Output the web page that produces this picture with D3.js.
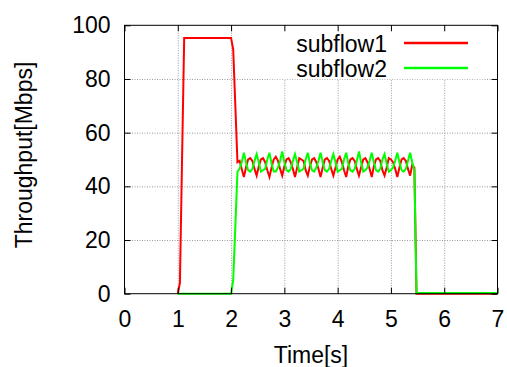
<!DOCTYPE html>
<html>
<head>
<meta charset="utf-8">
<script src="https://cdn.jsdelivr.net/npm/d3@7"></script>
<style>
  body { margin: 0; background: #fff; }
  svg { display: block; }
  text { font-family: "Liberation Sans", Arial, Helvetica, sans-serif; fill: #000; }
  .grid line { stroke: #999; stroke-dasharray: 1,1.5; }
  .grid path { display: none; }
  .axis path { display: none; }
  .axis line { stroke: #000; }
</style>
</head>
<body>
<svg id="chart"></svg>
<script>
// Time stamps (s)
var time = [
  1.00, 1.04, 1.08, 1.12, 1.16, 1.20, 1.24, 1.28, 1.32, 1.36,
  1.40, 1.44, 1.48, 1.52, 1.56, 1.60, 1.64, 1.68, 1.72, 1.76,
  1.80, 1.84, 1.88, 1.92, 1.96, 2.00, 2.04, 2.08, 2.12, 2.16,
  2.20, 2.24, 2.28, 2.32, 2.36, 2.40, 2.44, 2.48, 2.52, 2.56,
  2.60, 2.64, 2.68, 2.72, 2.76, 2.80, 2.84, 2.88, 2.92, 2.96,
  3.00, 3.04, 3.08, 3.12, 3.16, 3.20, 3.24, 3.28, 3.32, 3.36,
  3.40, 3.44, 3.48, 3.52, 3.56, 3.60, 3.64, 3.68, 3.72, 3.76,
  3.80, 3.84, 3.88, 3.92, 3.96, 4.00, 4.04, 4.08, 4.12, 4.16,
  4.20, 4.24, 4.28, 4.32, 4.36, 4.40, 4.44, 4.48, 4.52, 4.56,
  4.60, 4.64, 4.68, 4.72, 4.76, 4.80, 4.84, 4.88, 4.92, 4.96,
  5.00, 5.04, 5.08, 5.12, 5.16, 5.20, 5.24, 5.28, 5.32, 5.36,
  5.40, 5.44, 5.48, 7.00
];

// Throughput of subflow1 (Mbps)
var subflow1 = [
  0, 4, 50, 95.3, 95.3, 95.3, 95.3, 95.3, 95.3, 95.3,
  95.3, 95.3, 95.3, 95.3, 95.3, 95.3, 95.3, 95.3, 95.3, 95.3,
  95.3, 95.3, 95.3, 95.3, 95.3, 95.3, 91, 70, 49, 49.5,
  46.5, 43.5, 47, 50, 50.5, 49.5, 46.5, 44, 47.5, 50,
  50.5, 49, 46, 43.5, 47, 50, 51, 49.5, 46.5, 44,
  47.5, 50, 50.5, 49, 46.5, 43.5, 47, 50.5, 50, 49.5,
  46, 44, 47.5, 50, 50.5, 49, 46.5, 43.5, 47, 50,
  50.5, 49.5, 46.5, 44, 47, 50, 51, 49, 46, 43.5,
  47.5, 50, 50.5, 49.5, 46.5, 44, 47, 50, 50.5, 49,
  46.5, 43.5, 47.5, 50, 50.5, 49.5, 46, 44, 47, 50.5,
  50, 49, 46.5, 43.5, 47, 50, 50.5, 49.5, 46.5, 44,
  48, 47, 0, 0
];

// Throughput of subflow2 (Mbps)
var subflow2 = [
  0, 0, 0, 0, 0, 0, 0, 0, 0, 0,
  0, 0, 0, 0, 0, 0, 0, 0, 0, 0,
  0, 0, 0, 0, 0, 0, 5, 25, 45.5, 46.5,
  49, 52.5, 49, 46, 45.5, 46.5, 49.5, 52, 49, 45.5,
  46, 46.5, 50, 52.5, 48.5, 45.5, 45.5, 47, 49.5, 53,
  49, 46, 45.5, 46.5, 49.5, 52, 49, 45.5, 46, 46.5,
  50, 52.5, 48.5, 46, 45.5, 47, 49.5, 52.5, 49, 46,
  45.5, 46.5, 49.5, 52, 49, 45.5, 46, 46.5, 50, 52.5,
  48.5, 46, 45.5, 46.5, 49.5, 53, 49, 45.5, 46, 47,
  49.5, 52.5, 49, 46, 45.5, 46.5, 50, 52, 48.5, 45.5,
  46, 47, 49.5, 52.5, 49, 46, 45.5, 46.5, 49.5, 52.5,
  49, 46, 0.3, 0.3
];

var xTicks = [0, 1, 2, 3, 4, 5, 6, 7];
var yTicks = [0, 20, 40, 60, 80, 100];
var seriesNames = ['subflow1', 'subflow2'];
var seriesColors = ['#ff0000', '#00ff00'];

var width = 507;
var height = 367;
var margin = {top: 25.3, right: 9.5, bottom: 73.3, left: 124.5};
var fontSize = 23;

var svg = d3.select('#chart')
    .attr('width', width)
    .attr('height', height);

var xScale = d3.scaleLinear()
    .domain([0, 7])
    .range([margin.left, width - margin.right]);

var yScale = d3.scaleLinear()
    .domain([0, 100])
    .range([height - margin.bottom, margin.top]);

var plotW = width - margin.left - margin.right;
var plotH = height - margin.top - margin.bottom;

// Dotted grid
svg.append('g')
    .attr('class', 'grid')
    .attr('transform', `translate(0, ${height - margin.bottom})`)
    .call(d3.axisBottom(xScale).tickValues(xTicks.slice(1, -1)).tickSize(-plotH).tickFormat(''));

svg.append('g')
    .attr('class', 'grid')
    .attr('transform', `translate(${margin.left}, 0)`)
    .call(d3.axisLeft(yScale).tickValues(yTicks.slice(1, -1)).tickSize(-plotW).tickFormat(''));

// Key box hides the grid behind it
svg.append('rect')
    .attr('x', 268)
    .attr('y', margin.top + 1)
    .attr('width', 215)
    .attr('height', 53)
    .attr('fill', '#fff');

// Lines
var data = time.map((t, i) => ({t: t, s1: subflow1[i], s2: subflow2[i]}));

['s1', 's2'].forEach(function(key, k) {
    var line = d3.line()
        .x(d => xScale(d.t))
        .y(d => yScale(d[key]));
    svg.append('path')
        .datum(data)
        .attr('fill', 'none')
        .attr('stroke', seriesColors[k])
        .attr('stroke-width', 2)
        .attr('stroke-linejoin', 'miter')
        .attr('d', line);
});

// Axes with inward ticks
svg.append('g')
    .attr('class', 'axis')
    .attr('transform', `translate(0, ${height - margin.bottom})`)
    .call(d3.axisBottom(xScale).tickValues(xTicks).tickFormat(d3.format('d'))
        .tickSizeInner(-6).tickSizeOuter(0).tickPadding(17));

svg.append('g')
    .attr('class', 'axis')
    .attr('transform', `translate(${margin.left}, 0)`)
    .call(d3.axisLeft(yScale).tickValues(yTicks).tickFormat(d3.format('d'))
        .tickSizeInner(-6).tickSizeOuter(0).tickPadding(14));

// Mirror ticks on top and right
svg.append('g')
    .attr('class', 'axis')
    .attr('transform', `translate(0, ${margin.top})`)
    .call(d3.axisTop(xScale).tickValues(xTicks).tickSizeInner(-6).tickSizeOuter(0).tickFormat(''));

svg.append('g')
    .attr('class', 'axis')
    .attr('transform', `translate(${width - margin.right}, 0)`)
    .call(d3.axisRight(yScale).tickValues(yTicks).tickSizeInner(-6).tickSizeOuter(0).tickFormat(''));

svg.selectAll('.axis text')
    .style('font-size', fontSize + 'px');

// Border
svg.append('rect')
    .attr('x', margin.left)
    .attr('y', margin.top)
    .attr('width', plotW)
    .attr('height', plotH)
    .attr('fill', 'none')
    .attr('stroke', '#000')
    .attr('stroke-width', 1);

// Axis labels
svg.append('text')
    .attr('x', (margin.left + width - margin.right) / 2)
    .attr('y', 363)
    .attr('text-anchor', 'middle')
    .style('font-size', fontSize + 'px')
    .text('Time[s]');

svg.append('text')
    .attr('transform', 'translate(32, 155) rotate(-90)')
    .attr('text-anchor', 'middle')
    .style('font-size', fontSize + 'px')
    .text('Throughput[Mbps]');

// Legend
var legend = svg.selectAll('.legend-item')
    .data(seriesNames)
    .enter()
    .append('g')
    .attr('class', 'legend-item')
    .attr('transform', (d, i) => `translate(0, ${i * 25})`);

legend.append('text')
    .attr('x', 387)
    .attr('y', 51.7)
    .attr('text-anchor', 'end')
    .style('font-size', fontSize + 'px')
    .text(d => d);

legend.append('line')
    .attr('x1', 404)
    .attr('x2', 468)
    .attr('y1', 43)
    .attr('y2', 43)
    .attr('stroke', (d, i) => seriesColors[i])
    .attr('stroke-width', 2.5);
</script>
</body>
</html>
